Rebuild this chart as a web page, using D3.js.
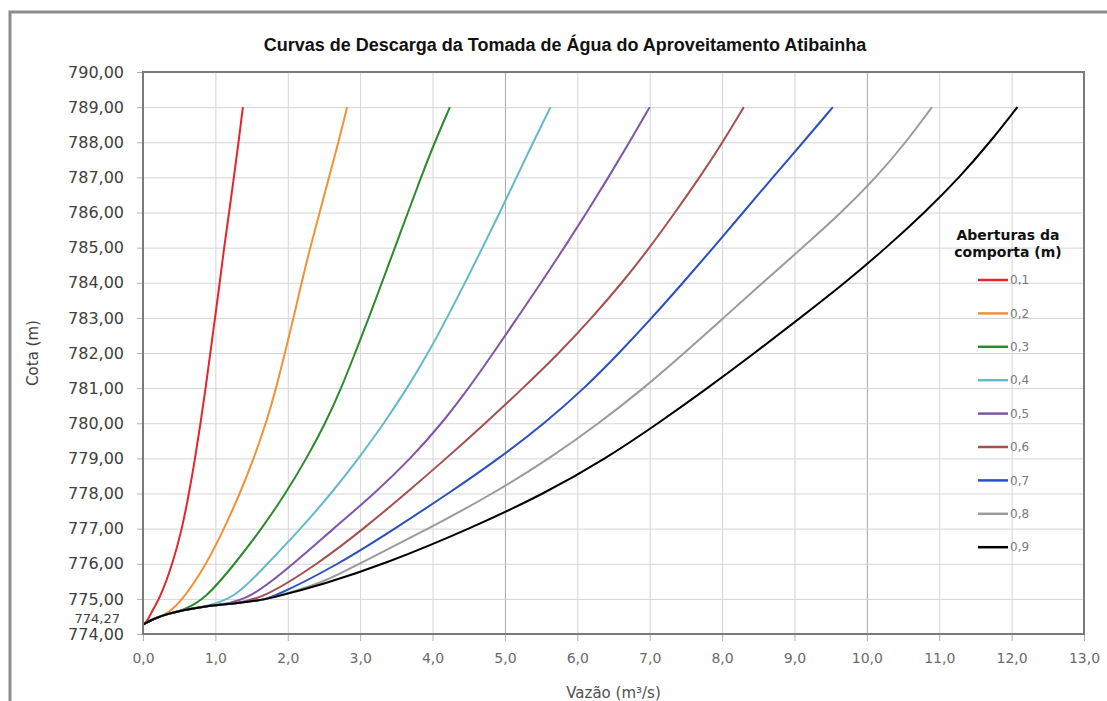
<!DOCTYPE html>
<html>
<head>
<meta charset="utf-8">
<script src="https://cdn.jsdelivr.net/npm/d3@7/dist/d3.min.js"></script>
<style>
  body { margin: 0; background: #ffffff; }
  svg text { font-family: "DejaVu Sans", Verdana, sans-serif; }
</style>
</head>
<body>
<div class="svg-wrapper"></div>
<script>
// Curvas de descarga - pares [vazao (m3/s), cota (m)]
const aberturas = ["0,1", "0,2", "0,3", "0,4", "0,5", "0,6", "0,7", "0,8", "0,9"];

const curva01 = [[0,774.27],[0.06,774.36],[0.14,774.72],[0.23,775],[0.41,776],[0.54,777],[0.635,778],[0.72,779],[0.795,780],[0.865,781],[0.93,782],[0.995,783],[1.06,784],[1.12,785],[1.19,786],[1.255,787],[1.32,788],[1.38,789]];
const curva02 = [[0,774.27],[0.15,774.44],[0.35,774.58],[0.56,775],[0.88,776],[1.12,777],[1.34,778],[1.53,779],[1.70,780],[1.84,781],[1.96,782],[2.08,783],[2.19,784],[2.31,785],[2.44,786],[2.57,787],[2.70,788],[2.82,789]];
const curva03 = [[0,774.27],[0.15,774.44],[0.35,774.58],[0.56,774.68],[0.86,775],[1.27,776],[1.64,777],[1.97,778],[2.26,779],[2.52,780],[2.74,781],[2.93,782],[3.12,783],[3.30,784],[3.48,785],[3.66,786],[3.84,787],[4.03,788],[4.24,789]];
const curva04 = [[0,774.27],[0.15,774.44],[0.35,774.58],[0.56,774.68],[0.86,774.79],[1.26,775],[1.72,776],[2.18,777],[2.60,778],[2.98,779],[3.33,780],[3.65,781],[3.94,782],[4.20,783],[4.45,784],[4.69,785],[4.93,786],[5.16,787],[5.39,788],[5.63,789]];
const curva05 = [[0,774.27],[0.15,774.44],[0.35,774.58],[0.56,774.68],[0.86,774.79],[1.07,774.83],[1.48,775],[2.08,776],[2.63,777],[3.20,778],[3.70,779],[4.13,780],[4.50,781],[4.84,782],[5.17,783],[5.50,784],[5.82,785],[6.13,786],[6.43,787],[6.72,788],[7.00,789]];
const curva06 = [[0,774.27],[0.15,774.44],[0.35,774.58],[0.56,774.68],[0.86,774.79],[1.07,774.83],[1.25,774.87],[1.65,775],[2.42,776],[3.05,777],[3.63,778],[4.19,779],[4.73,780],[5.25,781],[5.75,782],[6.20,783],[6.62,784],[7.00,785],[7.35,786],[7.69,787],[8.01,788],[8.30,789]];
const curva07 = [[0,774.27],[0.15,774.44],[0.35,774.58],[0.56,774.68],[0.86,774.79],[1.07,774.83],[1.25,774.87],[1.45,774.92],[1.60,774.96],[1.76,775],[2.72,776],[3.48,777],[4.22,778],[4.92,779],[5.55,780],[6.10,781],[6.58,782],[7.03,783],[7.46,784],[7.88,785],[8.29,786],[8.70,787],[9.12,788],[9.53,789]];
const curva08 = [[0,774.27],[0.15,774.44],[0.35,774.58],[0.56,774.68],[0.86,774.79],[1.07,774.83],[1.25,774.87],[1.45,774.92],[1.60,774.96],[1.73,775],[2.50,775.46],[2.98,776],[3.95,777],[4.84,778],[5.62,779],[6.30,780],[6.92,781],[7.48,782],[8.02,783],[8.56,784],[9.11,785],[9.65,786],[10.13,787],[10.54,788],[10.90,789]];
const curva09 = [[0,774.27],[0.15,774.44],[0.35,774.58],[0.56,774.68],[0.86,774.79],[1.07,774.83],[1.25,774.87],[1.45,774.92],[1.60,774.96],[1.73,775],[2.50,775.42],[3.35,776],[4.52,777],[5.55,778],[6.40,779],[7.12,780],[7.80,781],[8.45,782],[9.08,783],[9.70,784],[10.27,785],[10.80,786],[11.28,787],[11.70,788],[12.08,789]];

const curvas = [curva01, curva02, curva03, curva04, curva05, curva06, curva07, curva08, curva09];
const cores = ["#e3262e", "#f0913a", "#2c8a2c", "#64b9c9", "#7e55a8", "#a3504f", "#2a4fbf", "#9a9a9a", "#000000"];

const vazaoTicks = [0,1,2,3,4,5,6,7,8,9,10,11,12,13];
const cotaTicks = [774,775,776,777,778,779,780,781,782,783,784,785,786,787,788,789,790];
const cotaMinima = 774.27;

const svg = d3
  .select(".svg-wrapper")
  .append("svg")
  .attr("width", 1107)
  .attr("height", 701);

const margin = {top: 72, right: 23, bottom: 67, left: 143};
const innerWidth = 1107 - margin.left - margin.right;
const innerHeight = 701 - margin.top - margin.bottom;

const virgula = d => d.replace(".", ",");

// moldura externa do grafico (so aparecem esquerda e topo)
svg.append("path")
  .attr("d", "M10,701 V12 H1107")
  .attr("fill", "none")
  .attr("stroke", "#8c8c8c")
  .attr("stroke-width", 3);

svg.append("text")
  .attr("x", 565)
  .attr("y", 51)
  .attr("text-anchor", "middle")
  .style("font-family", "'Liberation Sans', Arial, sans-serif")
  .style("font-weight", "bold")
  .style("font-size", "18px")
  .attr("fill", "#111")
  .text("Curvas de Descarga da Tomada de Água do Aproveitamento Atibainha");

const xScale = d3.scaleLinear()
  .domain([0, 13])
  .range([0, innerWidth]);

const yScale = d3.scaleLinear()
  .domain([774, 790])
  .range([innerHeight, 0]);

const g = svg.append("g")
  .attr("transform", `translate(${margin.left},${margin.top})`);

// grade
const gridX = g.append("g")
  .attr("transform", `translate(0,${innerHeight})`)
  .call(d3.axisBottom(xScale).tickValues(vazaoTicks).tickSize(-innerHeight).tickFormat(""));
gridX.select(".domain").remove();
gridX.selectAll("text").remove();
gridX.selectAll("line")
  .attr("stroke", d => (d === 5 || d === 10) ? "#a8a8a8" : "#d4d4d4");

const gridY = g.append("g")
  .call(d3.axisLeft(yScale).tickValues(cotaTicks).tickSize(-innerWidth).tickFormat(""));
gridY.select(".domain").remove();
gridY.selectAll("text").remove();
gridY.selectAll("line").attr("stroke", "#d4d4d4");

// eixos
const xAxisG = g.append("g")
  .attr("transform", `translate(0,${innerHeight})`)
  .call(d3.axisBottom(xScale)
    .tickValues(vazaoTicks)
    .tickSize(7)
    .tickPadding(12)
    .tickFormat(d => virgula(d3.format(".1f")(d))))
  .attr("font-size", 14);
xAxisG.select(".domain").remove();
xAxisG.selectAll("line").attr("stroke", "#b0b0b0");
xAxisG.selectAll("text").attr("fill", "#6a6a6a");

const yAxisG = g.append("g")
  .call(d3.axisLeft(yScale)
    .tickValues(cotaTicks)
    .tickSize(6)
    .tickPadding(13)
    .tickFormat(d => virgula(d3.format(".2f")(d))))
  .attr("font-size", 16);
yAxisG.select(".domain").remove();
yAxisG.selectAll("line").attr("stroke", "#b0b0b0");
yAxisG.selectAll("text").attr("fill", "#404040");

g.append("text")
  .attr("x", -23)
  .attr("y", yScale(cotaMinima) - 2)
  .attr("text-anchor", "end")
  .attr("font-size", 13)
  .attr("fill", "#404040")
  .text(virgula(d3.format(".2f")(cotaMinima)));

// rotulos dos eixos
g.append("text")
  .attr("transform", "rotate(-90)")
  .attr("x", -innerHeight / 2)
  .attr("y", -105)
  .attr("text-anchor", "middle")
  .attr("font-size", 15)
  .attr("fill", "#404040")
  .text("Cota (m)");

g.append("text")
  .attr("x", innerWidth / 2)
  .attr("y", innerHeight + 64)
  .attr("text-anchor", "middle")
  .attr("font-size", 15)
  .attr("fill", "#505050")
  .text("Vazão (m³/s)");

// curvas (suavizadas, como no grafico original)
const lineGenerator = d3.line()
  .x(d => xScale(d[0]))
  .y(d => yScale(d[1]))
  .curve(d3.curveBasis);

curvas.forEach(function(curva, i){
  g.append("path")
    .attr("class", "line-path")
    .attr("fill", "none")
    .attr("stroke", cores[i])
    .attr("stroke-width", 2)
    .attr("stroke-linejoin", "round")
    .attr("d", lineGenerator(curva));
});

// borda da area do grafico
g.append("rect")
  .attr("width", innerWidth)
  .attr("height", innerHeight)
  .attr("fill", "none")
  .attr("stroke", "#7a7a7a")
  .attr("stroke-width", 2);

// legenda
const legend = svg.append("g");

legend.append("text")
  .attr("x", 1008)
  .attr("y", 240)
  .attr("text-anchor", "middle")
  .attr("font-size", 14)
  .attr("font-weight", "bold")
  .attr("fill", "#111")
  .text("Aberturas da");

legend.append("text")
  .attr("x", 1008)
  .attr("y", 257)
  .attr("text-anchor", "middle")
  .attr("font-size", 14)
  .attr("font-weight", "bold")
  .attr("fill", "#111")
  .text("comporta (m)");

aberturas.forEach(function(a, i){
  const ly = 280 + i * 33.4;
  legend.append("line")
    .attr("x1", 978)
    .attr("x2", 1008)
    .attr("y1", ly)
    .attr("y2", ly)
    .attr("stroke", cores[i])
    .attr("stroke-width", 2.5);
  legend.append("text")
    .attr("x", 1010)
    .attr("y", ly)
    .attr("dy", "0.35em")
    .attr("font-size", 12)
    .attr("fill", "#7a7a7a")
    .text(a);
});
</script>
</body>
</html>
